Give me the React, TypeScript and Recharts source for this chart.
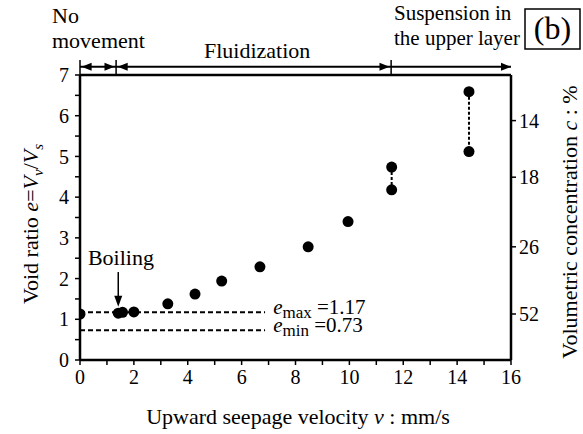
import React from "react";
import {
  ComposedChart,
  Scatter,
  XAxis,
  YAxis,
  ReferenceLine,
  ReferenceDot,
} from "recharts";

// measured points: upward seepage velocity (mm/s) vs void ratio
const velocity = [0, 1.42, 1.58, 2.0, 3.26, 4.27, 5.26, 6.68, 8.47, 9.95, 11.57, 11.57, 14.44, 14.44];
const voidRatio = [1.13, 1.15, 1.17, 1.18, 1.38, 1.62, 1.94, 2.29, 2.78, 3.4, 4.74, 4.18, 6.59, 5.12];

// pairs measured at the same velocity, joined by a dotted line
const pairs = [
  [10, 11],
  [12, 13],
];

const xTicks = [0, 1, 2, 3, 4, 5, 6, 7, 8, 9, 10, 11, 12, 13, 14, 15, 16];
const yTicks = [0, 0.5, 1, 1.5, 2, 2.5, 3, 3.5, 4, 4.5, 5, 5.5, 6, 6.5, 7];

// right axis: volumetric concentration, placed at the matching void ratio
const concTicks = [1.13, 2.78, 4.49, 5.88];
const concLabels = ["52", "26", "18", "14"];

const eMax = 1.17;
const eMin = 0.73;

// stage boundaries along the top of the plot (mm/s)
const stageBounds = [0, 1.34, 11.55, 16];
const stageArrowY = 7.2;
const stageTickTop = 7.37;

const boilingV = 1.42;

const FONT = "Liberation Serif, DejaVu Serif, serif";

const points = velocity.map((v, i) => ({ v, e: voidRatio[i] }));

const Dot = (p: any) => <circle cx={p.cx} cy={p.cy} r={5.5} fill="#000" />;

const arrowHead = (dir: "left" | "right" | "down") => (p: any) => {
  const { cx, cy } = p;
  let pts = "";
  if (dir === "left") pts = `${cx},${cy} ${cx + 10},${cy - 4} ${cx + 10},${cy + 4}`;
  if (dir === "right") pts = `${cx},${cy} ${cx - 10},${cy - 4} ${cx - 10},${cy + 4}`;
  if (dir === "down") pts = `${cx},${cy} ${cx - 4},${cy - 11} ${cx + 4},${cy - 11}`;
  return <polygon points={pts} fill="#000" />;
};

const limitLabel = (sub: string, value: string) => (p: any) => (
  <text x={p.cx} y={p.cy + 2} style={{ fontFamily: FONT }} fontSize={21} fill="#000">
    <tspan fontStyle="italic">e</tspan>
    <tspan fontSize={17} dy={4}>{sub}</tspan>
    <tspan dy={-4}>{" =" + value}</tspan>
  </text>
);

const boilingLabel = (p: any) => (
  <text x={p.cx} y={p.cy} style={{ fontFamily: FONT }} fontSize={22} fill="#000" textAnchor="middle">
    Boiling
  </text>
);

export default function App() {
  const tickStyle = { fill: "#000", fontSize: 20, fontFamily: FONT };
  return (
    <div
      style={{
        position: "absolute",
        left: 0,
        top: 0,
        width: 583,
        height: 434,
        background: "#fff",
        fontFamily: FONT,
      }}
    >
      <ComposedChart width={583} height={434} margin={{ top: 75, right: 22, bottom: 44, left: 20 }}>
        <XAxis
          type="number"
          dataKey="v"
          domain={[0, 16]}
          ticks={xTicks}
          interval={0}
          tickFormatter={(v: number) => (v % 2 === 0 ? String(v) : "")}
          tick={tickStyle}
          tickSize={5}
          tickMargin={5}
          height={30}
          axisLine={{ stroke: "#000", strokeWidth: 2.5 }}
          tickLine={{ stroke: "#000", strokeWidth: 1.5 }}
          allowDataOverflow
        />
        <YAxis
          yAxisId="left"
          type="number"
          domain={[0, 7]}
          ticks={yTicks}
          interval={0}
          tickFormatter={(v: number) => (Number.isInteger(v) ? String(v) : "")}
          tick={tickStyle}
          tickSize={5}
          tickMargin={6}
          width={60}
          axisLine={{ stroke: "#000", strokeWidth: 2.5 }}
          tickLine={{ stroke: "#000", strokeWidth: 1.5 }}
          allowDataOverflow
        />
        <YAxis
          yAxisId="right"
          orientation="right"
          type="number"
          domain={[0, 7]}
          ticks={concTicks}
          interval={0}
          tickFormatter={(v: number) => concLabels[concTicks.indexOf(v)] ?? ""}
          tick={tickStyle}
          tickSize={5}
          tickMargin={3}
          width={50}
          axisLine={{ stroke: "#000", strokeWidth: 2.5 }}
          tickLine={{ stroke: "#000", strokeWidth: 1.5 }}
          allowDataOverflow
        />

        {/* top frame line */}
        <ReferenceLine yAxisId="left" y={7} stroke="#000" strokeWidth={2.5} />

        {/* e_max / e_min */}
        <ReferenceLine
          yAxisId="left"
          segment={[{ x: 0, y: eMax }, { x: 6.87, y: eMax }]}
          stroke="#000"
          strokeWidth={2}
          strokeDasharray="5 3"
        />
        <ReferenceLine
          yAxisId="left"
          segment={[{ x: 0, y: eMin }, { x: 6.87, y: eMin }]}
          stroke="#000"
          strokeWidth={2}
          strokeDasharray="5 3"
        />
        <ReferenceDot yAxisId="left" x={7.17} y={eMax} shape={limitLabel("max", "1.17")} />
        <ReferenceDot yAxisId="left" x={7.17} y={eMin} shape={limitLabel("min", "0.73")} />

        {/* dotted links between repeated measurements */}
        {pairs.map(([a, b]) => (
          <ReferenceLine
            key={a}
            yAxisId="left"
            segment={[{ x: velocity[a], y: voidRatio[a] }, { x: velocity[b], y: voidRatio[b] }]}
            stroke="#000"
            strokeWidth={2}
            strokeDasharray="3 2"
          />
        ))}

        {/* boiling arrow */}
        <ReferenceLine
          yAxisId="left"
          segment={[{ x: boilingV, y: 2.16 }, { x: boilingV, y: 1.4 }]}
          stroke="#000"
          strokeWidth={1.5}
        />
        <ReferenceDot yAxisId="left" x={boilingV} y={1.31} shape={arrowHead("down")} />
        <ReferenceDot yAxisId="left" x={1.52} y={2.33} shape={boilingLabel} />

        {/* stage arrows above the plot */}
        <ReferenceLine
          yAxisId="left"
          ifOverflow="visible"
          segment={[{ x: stageBounds[0], y: stageArrowY }, { x: stageBounds[3], y: stageArrowY }]}
          stroke="#000"
          strokeWidth={2}
        />
        {stageBounds.slice(0, 3).map((b) => (
          <ReferenceLine
            key={b}
            yAxisId="left"
            ifOverflow="visible"
            segment={[{ x: b, y: 7 }, { x: b, y: stageTickTop }]}
            stroke="#000"
            strokeWidth={1.5}
          />
        ))}
        <ReferenceDot yAxisId="left" ifOverflow="visible" x={stageBounds[0] + 0.06} y={stageArrowY} shape={arrowHead("left")} />
        <ReferenceDot yAxisId="left" ifOverflow="visible" x={stageBounds[1] - 0.06} y={stageArrowY} shape={arrowHead("right")} />
        <ReferenceDot yAxisId="left" ifOverflow="visible" x={stageBounds[1] + 0.06} y={stageArrowY} shape={arrowHead("left")} />
        <ReferenceDot yAxisId="left" ifOverflow="visible" x={stageBounds[2] - 0.06} y={stageArrowY} shape={arrowHead("right")} />
        <ReferenceDot yAxisId="left" ifOverflow="visible" x={stageBounds[3]} y={stageArrowY} shape={arrowHead("right")} />

        <Scatter yAxisId="left" data={points} dataKey="e" shape={Dot} isAnimationActive={false} />
      </ComposedChart>

      <svg
        width={583}
        height={434}
        style={{ position: "absolute", left: 0, top: 0, pointerEvents: "none", fontFamily: FONT }}
        fill="#000"
      >
        <text x={52} y={23} fontSize={22}>No</text>
        <text x={52} y={48} fontSize={22}>movement</text>
        <text x={204} y={58} fontSize={22}>Fluidization</text>
        <text x={394} y={20} fontSize={21}>Suspension in</text>
        <text x={394} y={45} fontSize={21}>the upper layer</text>
        <rect x={525} y={9} width={55} height={40} fill="none" stroke="#000" strokeWidth={1.5} />
        <text x={552.5} y={39} fontSize={32} textAnchor="middle">(b)</text>

        <text transform="translate(38,224) rotate(-90)" fontSize={22} textAnchor="middle">
          Void ratio <tspan fontStyle="italic">e</tspan>=<tspan fontStyle="italic">V</tspan>
          <tspan fontSize={15} dy={5} fontStyle="italic">v</tspan>
          <tspan dy={-5}>/</tspan>
          <tspan fontStyle="italic">V</tspan>
          <tspan fontSize={15} dy={5} fontStyle="italic">s</tspan>
        </text>
        <text transform="translate(577,222) rotate(-90)" fontSize={22} textAnchor="middle">
          Volumetric concentration <tspan fontStyle="italic">c</tspan> : %
        </text>
        <text x={298} y={424} fontSize={22} textAnchor="middle">
          Upward seepage velocity <tspan fontStyle="italic">v</tspan> : mm/s
        </text>
      </svg>
    </div>
  );
}
